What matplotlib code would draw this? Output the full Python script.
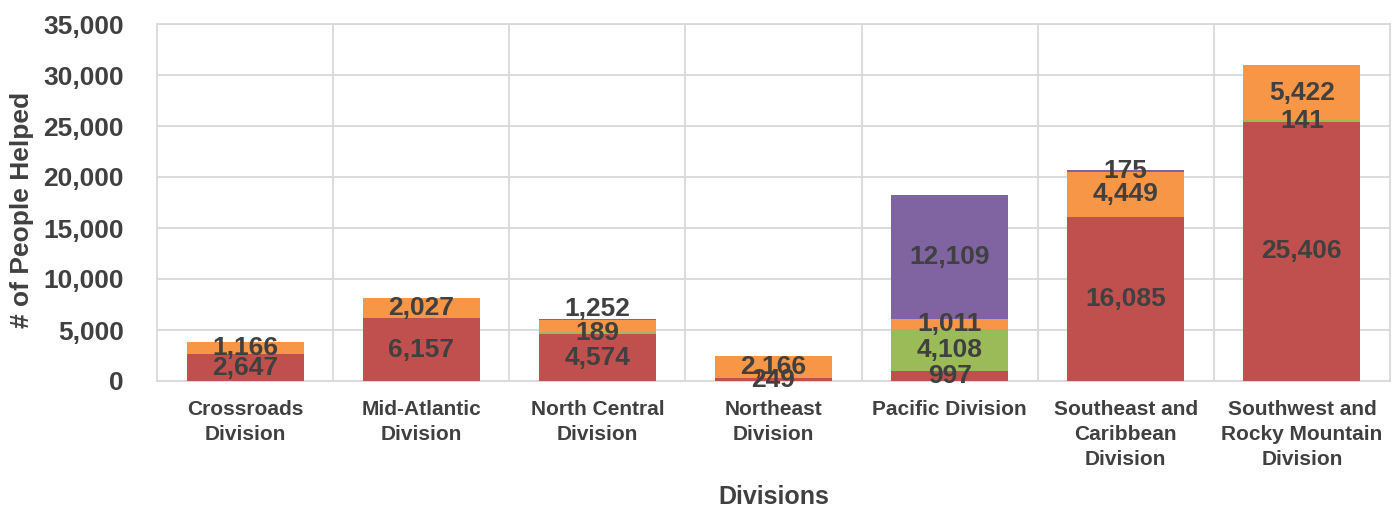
import numpy as np
import matplotlib
matplotlib.use("Agg")
import matplotlib.pyplot as plt

plt.rcParams['font.family'] = ['Liberation Sans', 'DejaVu Sans']

# categories and series (bottom to top)
divisions = ['Crossroads\nDivision', 'Mid-Atlantic\nDivision', 'North Central\nDivision',
             'Northeast\nDivision', 'Pacific Division', 'Southeast and\nCaribbean\nDivision',
             'Southwest and\nRocky Mountain\nDivision']
red_vals = [2647, 6157, 4574, 249, 997, 16085, 25406]
green_vals = [0, 0, 189, 0, 4108, 0, 141]
orange_vals = [1166, 2027, 1252, 2166, 1011, 4449, 5422]
purple_vals = [0, 0, 60, 0, 12109, 175, 0]

series = [red_vals, green_vals, orange_vals, purple_vals]
colors = ['#C0504D', '#9BBB59', '#F79646', '#8064A2']
hidden = {(3, 2)}          # segments drawn without a label
nudge = {(2, 2): 1700}     # label moved up in the original chart

txt = '#404040'
grid = '#D9D9D9'

fig = plt.figure(figsize=(13.97, 5.19), dpi=100)
ax = fig.add_axes([157/1397, (519-381)/519, (1390-157)/1397, (381-24)/519])

x = np.arange(len(divisions))
bottom = np.zeros(len(divisions))
for si, vals in enumerate(series):
    vals = np.array(vals, dtype=float)
    ax.bar(x, vals, 0.665, bottom=bottom, color=colors[si], zorder=3)
    for ci, v in enumerate(vals):
        if v <= 0 or (si, ci) in hidden:
            continue
        yy = bottom[ci] + v/2 + nudge.get((si, ci), 0)
        ax.text(x[ci], yy, '{:,.0f}'.format(v), ha='center', va='center',
                fontsize=19, fontweight='bold', color=txt, zorder=5)
    bottom += vals

ax.set_xlim(-0.5, len(divisions) - 0.5)
ax.set_ylim(0, 35000)
ax.set_yticks(np.arange(0, 35001, 5000))
ax.set_yticklabels(['{:,}'.format(v) for v in range(0, 35001, 5000)])
ax.set_xticks(x)
ax.set_xticklabels(divisions, linespacing=1.4)
ax.set_xticks(np.arange(0.5, len(divisions) - 0.5, 1), minor=True)

ax.grid(axis='y', color=grid, lw=1.3, zorder=0)
ax.grid(axis='x', which='minor', color=grid, lw=1.3, zorder=0)
ax.grid(axis='x', which='major', visible=False)
for s in ax.spines.values():
    s.set_color(grid)
    s.set_linewidth(1.3)

ax.tick_params(axis='both', which='both', length=0)
ax.tick_params(axis='y', labelsize=19, pad=24, labelcolor=txt)
ax.tick_params(axis='x', labelsize=15, pad=14, labelcolor=txt)
for lab in ax.get_xticklabels() + ax.get_yticklabels():
    lab.set_fontweight('bold')

ax.set_ylabel('# of People Helped', fontsize=19, fontweight='bold', color=txt)
ax.yaxis.set_label_coords(-0.1, 0.48)
ax.set_xlabel('Divisions', fontsize=18, fontweight='bold', color=txt)
ax.xaxis.set_label_coords(0.5, -0.29)

fig.savefig('out.png', dpi=100)
